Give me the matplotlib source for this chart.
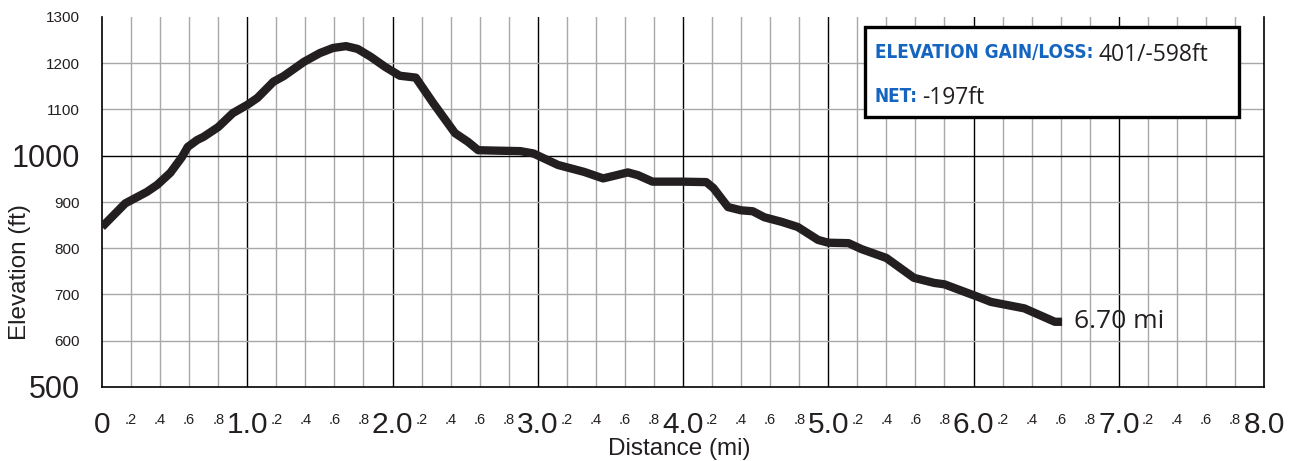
import numpy as np
import matplotlib.pyplot as plt
from matplotlib.patches import Rectangle

# distance (mi) and elevation (ft)
dist = [0, 0.16, 0.31, 0.38, 0.47, 0.55, 0.59, 0.655, 0.70, 0.80, 0.90, 1.0, 1.07, 1.18,
        1.25, 1.39, 1.50, 1.59, 1.68, 1.76, 1.85, 1.95, 2.05, 2.16, 2.28, 2.43, 2.52, 2.59,
        2.72, 2.88, 2.97, 3.14, 3.32, 3.45, 3.53, 3.62, 3.69, 3.79, 3.99, 4.16, 4.21, 4.31,
        4.40, 4.48, 4.56, 4.68, 4.79, 4.93, 5.0, 5.14, 5.23, 5.40, 5.59, 5.73, 5.80, 6.03,
        6.12, 6.35, 6.56, 6.61]
elev = [846, 897, 922, 937, 963, 997, 1019, 1034, 1041, 1062, 1092, 1110, 1125, 1160,
        1172, 1203, 1222, 1233, 1237, 1231, 1214, 1192, 1173, 1169, 1114, 1049, 1030, 1012,
        1011, 1010, 1005, 980, 965, 951, 957, 964, 958, 944, 944, 943, 930, 889,
        882, 880, 867, 857, 846, 818, 812, 811, 798, 779, 736, 725, 722, 695,
        684, 670, 641, 641]

major_x = [0, 1, 2, 3, 4, 5, 6, 7, 8]
major_x_labels = ["0", "1.0", "2.0", "3.0", "4.0", "5.0", "6.0", "7.0", "8.0"]
minor_x = [i + f for i in range(8) for f in (0.2, 0.4, 0.6, 0.8)]
minor_x_labels = [".2", ".4", ".6", ".8"] * 8
y_ticks = [500, 600, 700, 800, 900, 1000, 1100, 1200, 1300]
y_labels = ["500", "600", "700", "800", "900", "1000", "1100", "1200", "1300"]
big_y = ["500", "1000"]

total_dist = "6.70 mi"
gain_loss = "401/-598ft"
net = "-197ft"

W, H = 1301, 461
fig = plt.figure(figsize=(13.01, 4.61), dpi=100)
ax = fig.add_axes([102 / W, 74 / H, 1162 / W, 370 / H])
ax.set_xlim(0, 8)
ax.set_ylim(500, 1300)

# grid
for x in minor_x:
    ax.axvline(x, color="#a8a8a8", lw=1.0, zorder=1)
for x in major_x[1:-1]:
    ax.axvline(x, color="black", lw=1.0, zorder=1)
for y in y_ticks[1:-1]:
    ax.axhline(y, color="black" if y == 1000 else "#a8a8a8", lw=1.0, zorder=1)

ax.plot(dist, elev, color="#231f20", lw=6, solid_capstyle="butt",
        solid_joinstyle="round", zorder=3)
ax.text(dist[-1] + 0.08, elev[-1], total_dist, fontsize=19, family="Open Sans",
        color="#231f20", va="center", ha="left", zorder=4)

ax.spines["top"].set_visible(False)
for s in ["left", "bottom", "right"]:
    ax.spines[s].set_color("black")
    ax.spines[s].set_linewidth(1.2)

ax.set_xticks(major_x)
ax.set_xticklabels(major_x_labels)
ax.set_xticks(minor_x, minor=True)
ax.set_xticklabels(minor_x_labels, minor=True)
ax.tick_params(axis="x", which="major", length=0, pad=17, labelsize=21.5, labelcolor="#231f20")
ax.tick_params(axis="x", which="minor", length=0, pad=18.5, labelsize=10.5, labelcolor="#231f20")
ax.set_yticks(y_ticks)
ax.set_yticklabels(y_labels)
ax.tick_params(axis="y", length=0, pad=16, labelcolor="#231f20")
for lab in ax.get_xticklabels() + ax.get_xticklabels(minor=True) + ax.get_yticklabels():
    lab.set_family("Liberation Sans")
for lab in ax.get_yticklabels():
    lab.set_fontsize(22 if lab.get_text() in big_y else 11)

fig.text(20 / W, 1 - 272 / H, "Elevation (ft)", rotation=90, ha="center", va="center",
         fontsize=17.5, family="Liberation Sans", color="#231f20")
fig.text(679 / W, 1 - 449 / H, "Distance (mi)", ha="center", va="center",
         fontsize=17.5, family="Liberation Sans", color="#231f20")

# stats box
box = Rectangle((865 / W, 1 - 117 / H), 374 / W, 90 / H, transform=fig.transFigure,
                facecolor="white", edgecolor="black", lw=2.4, zorder=5)
fig.patches.append(box)
blue = "#1565c0"
head_kw = dict(weight="bold", family="DejaVu Sans", fontstretch="condensed",
               color=blue, va="center", zorder=6)
t1 = fig.text(875 / W, 1 - 53 / H, "ELEVATION GAIN/LOSS:", fontsize=20, **head_kw)
t2 = fig.text(875 / W, 1 - 96 / H, "NET:", fontsize=20, **head_kw)

# shrink the heading until it fits the width it takes in the box
renderer = fig.canvas.get_renderer()
w = t1.get_window_extent(renderer).width
size = 20 * 218 / w
t1.set_fontsize(size)
t2.set_fontsize(size)
x1 = t1.get_window_extent(renderer).x1
x2 = t2.get_window_extent(renderer).x1
fig.text((x1 + 5) / W, 1 - 55 / H, gain_loss, fontsize=16.5, family="Open Sans",
         color="#231f20", va="center", zorder=6)
fig.text((x2 + 4) / W, 1 - 98 / H, net, fontsize=16.5, family="Open Sans",
         color="#231f20", va="center", zorder=6)

fig.savefig("out.png", dpi=100)
